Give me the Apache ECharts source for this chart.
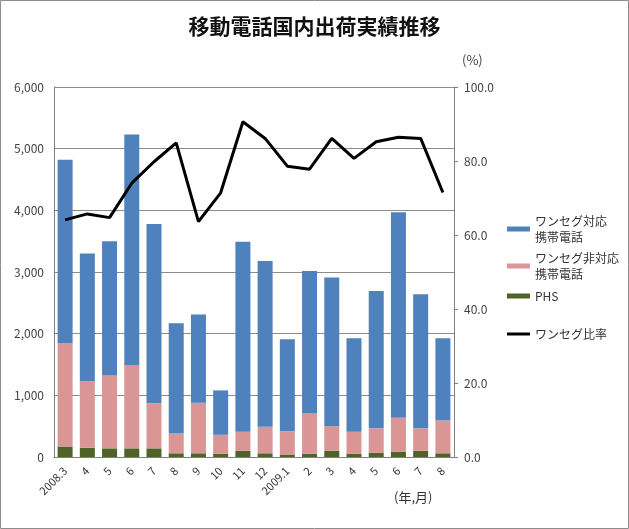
<!DOCTYPE html>
<html lang="ja">
<head>
  <meta charset="utf-8">
  <style>
    html, body { margin: 0; padding: 0; background: #fff; }
    #container { width: 629px; height: 529px; }
  </style>
</head>
<body>
  <div id="container"></div>
  <script src="https://cdn.jsdelivr.net/npm/echarts@6/dist/echarts.min.js"></script>
  <script>
    // 月 (年,月)
    var months = ['2008.3', '4', '5', '6', '7', '8', '9', '10', '11', '12',
                  '2009.1', '2', '3', '4', '5', '6', '7', '8'];
    // 出荷台数 (千台) - 読み取り値
    var phs       = [170, 150, 140, 140, 140, 60, 60, 50, 100, 60, 40, 50, 100, 50, 70, 85, 100, 60];
    var nonOneseg = [1680, 1080, 1180, 1350, 730, 320, 820, 310, 310, 430, 380, 655, 400, 360, 395, 550, 365, 530];
    var oneseg    = [2970, 2070, 2180, 3740, 2910, 1790, 1430, 720, 3080, 2690, 1490, 2310, 2410, 1515, 2225, 3335, 2175, 1335];
    // ワンセグ比率 (%)
    var ratio = [64.1, 65.7, 64.7, 74.0, 79.8, 84.9, 63.6, 71.4, 90.6, 86.1, 78.6, 77.8,
                 86.1, 80.7, 85.2, 86.4, 86.1, 71.5];

    var FONT = '"Noto Sans CJK JP", sans-serif';
    var myChart = echarts.init(document.getElementById('container'), null, { renderer: 'canvas' });

    function legendBox(name, top, icon, h) {
      return {
        data: [name],
        left: 507,
        top: top,
        orient: 'vertical',
        icon: icon,
        itemWidth: 23,
        itemHeight: h,
        itemGap: 0,
        padding: 0,
        selectedMode: false,
        formatter: function (n) { return n.replace('対応', '対応\n'); },
        textStyle: { fontFamily: FONT, fontSize: 12, color: '#333', lineHeight: 16,
                     verticalAlign: 'top', padding: [-6, 0, 0, 0] }
      };
    }

    var option = {
      animation: false,
      title: {
        text: '移動電話国内出荷実績推移',
        left: 'center',
        top: 11,
        textStyle: { fontFamily: FONT, fontSize: 21, fontWeight: 'bold', color: '#111' }
      },
      graphic: [
        { type: 'rect', shape: { x: 0.5, y: 0.5, width: 628, height: 528 },
          style: { fill: 'none', stroke: '#8c8c8c', lineWidth: 1 } },
        { type: 'text', left: 394, top: 491,
          style: { text: '(年,月)', font: '13px "Noto Sans CJK JP"', fill: '#333' } }
      ],
      legend: [
        legendBox('ワンセグ対応携帯電話', 215, 'rect', 5),
        legendBox('ワンセグ非対応携帯電話', 252, 'rect', 5),
        legendBox('PHS', 290, 'rect', 5),
        legendBox('ワンセグ比率', 328, 'rect', 3)
      ],
      grid: { left: 54, right: 175, top: 87, bottom: 72 },
      xAxis: {
        type: 'category',
        data: months,
        axisLine: { lineStyle: { color: '#808080', width: 1 } },
        axisTick: { show: false },
        axisLabel: { rotate: 45, fontFamily: FONT, fontSize: 11, color: '#333', margin: 12, interval: 0 }
      },
      yAxis: [
        {
          type: 'value', min: 0, max: 6000, interval: 1000,
          axisLine: { show: true, lineStyle: { color: '#808080' } },
          axisTick: { show: false },
          splitLine: { lineStyle: { color: '#8c8c8c', width: 1 } },
          axisLabel: {
            fontFamily: FONT, fontSize: 12, color: '#444', margin: 10,
            formatter: function (v) { return v.toLocaleString('en-US'); }
          }
        },
        {
          type: 'value', min: 0, max: 100, interval: 20,
          name: '(%)', nameGap: 20,
          nameTextStyle: { fontFamily: FONT, fontSize: 13, color: '#444', align: 'left', padding: [0, 0, 0, 8] },
          axisLine: { show: true, lineStyle: { color: '#808080' } },
          axisTick: { show: true, length: 4, lineStyle: { color: '#808080' } },
          splitLine: { show: false },
          axisLabel: {
            fontFamily: FONT, fontSize: 12, color: '#444', margin: 10,
            formatter: function (v) { return v.toFixed(1); }
          }
        }
      ],
      series: [
        { name: 'PHS', type: 'bar', stack: 'total', data: phs, barWidth: 15,
          itemStyle: { color: '#4F6228' } },
        { name: 'ワンセグ非対応携帯電話', type: 'bar', stack: 'total', data: nonOneseg, barWidth: 15,
          itemStyle: { color: '#D99694' } },
        { name: 'ワンセグ対応携帯電話', type: 'bar', stack: 'total', data: oneseg, barWidth: 15,
          itemStyle: { color: '#4F81BD' } },
        { name: 'ワンセグ比率', type: 'line', yAxisIndex: 1, data: ratio,
          symbol: 'none', lineStyle: { color: '#000', width: 3 }, itemStyle: { color: '#000' } }
      ]
    };

    myChart.setOption(option);
  </script>
</body>
</html>
